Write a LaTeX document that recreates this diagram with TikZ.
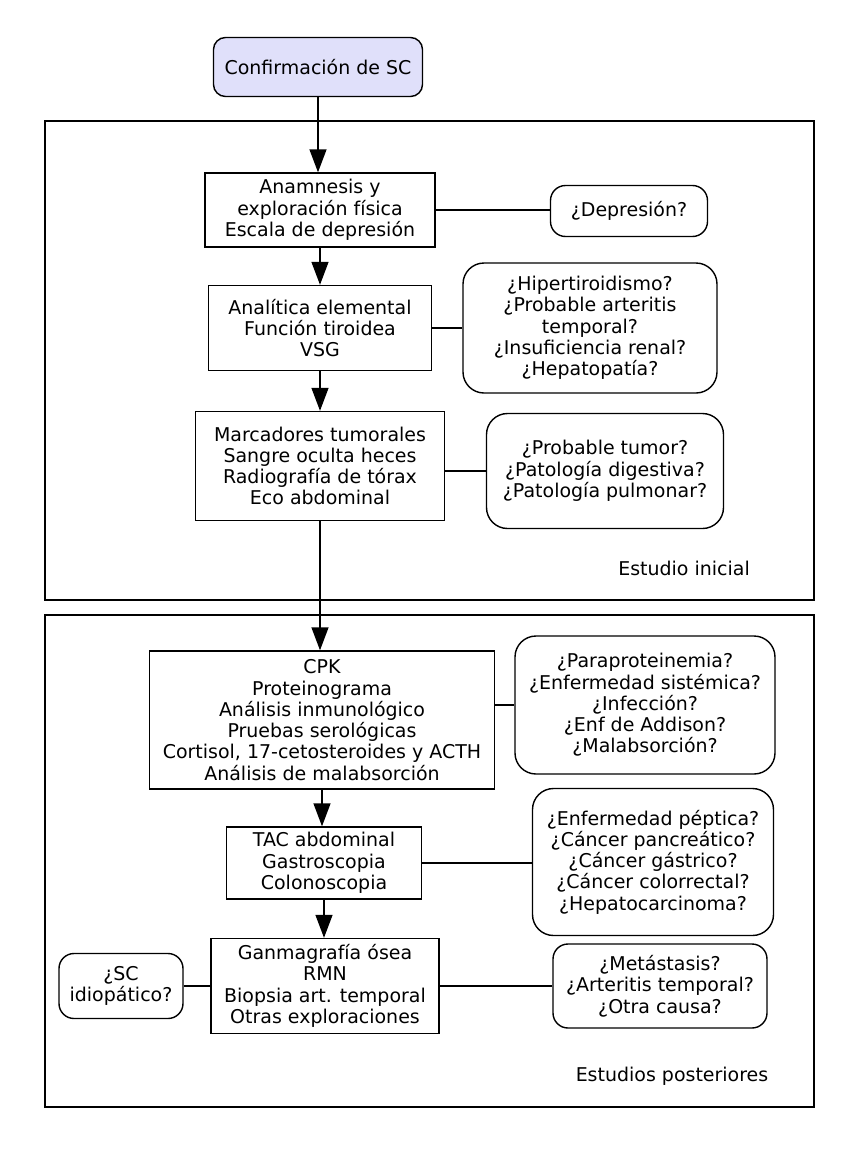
\documentclass[tikz,border=0pt]{standalone}
\usepackage{fontspec}
\setmainfont{DejaVu Sans}
\usepackage{tikz}
\usetikzlibrary{arrows.meta, positioning, calc}
\definecolor{startlila}{RGB}{224, 224, 250}

\tikzset{
  stepbox/.style={draw, line width=0.8pt, align=center, inner sep=2pt},
  askbox/.style={draw, line width=0.8pt, rounded corners=0.42cm, align=center, inner sep=2pt},
  framebox/.style={draw, line width=0.8pt},
  flow/.style={line width=0.8pt, -{Triangle[width=0.34cm, length=0.46cm]}},
  link/.style={line width=0.8pt}
}

\begin{document}
\begin{tikzpicture}[font=\fontsize{10.8}{12.1}\selectfont]
  \useasboundingbox (0,0) rectangle (17.18,-23);

  % Start
  \node[stepbox, fill=startlila, rounded corners=0.24cm, minimum width=4.18cm, minimum height=1.18cm] (conf) at (6.36, -1.34) {Confirmación de SC};

  % Estudio inicial
  \draw[framebox] (0.9, -2.42) rectangle (16.28, -12.0);
  \node (inicial) at (13.68, -11.36) {Estudio inicial};

  \node[stepbox, minimum width=4.6cm, minimum height=1.48cm] (anam) at (6.4, -4.2) {Anamnesis y\\exploración física\\Escala de depresión};
  \node[askbox, rounded corners=0.3cm, minimum width=3.14cm, minimum height=1.02cm] (depre) at (12.58, -4.22) {¿Depresión?};

  \node[stepbox, minimum width=4.46cm, minimum height=1.7cm] (anal) at (6.4, -6.56) {Analítica elemental\\Función tiroidea\\VSG};
  \node[askbox, minimum width=5.08cm, minimum height=2.6cm] (hiper) at (11.8, -6.56) {¿Hipertiroidismo?\\¿Probable arteritis\\temporal?\\¿Insuficiencia renal?\\¿Hepatopatía?};

  \node[stepbox, minimum width=4.98cm, minimum height=2.18cm] (marc) at (6.4, -9.32) {Marcadores tumorales\\Sangre oculta heces\\Radiografía de tórax\\Eco abdominal};
  \node[askbox, minimum width=4.74cm, minimum height=2.3cm] (tumor) at (12.1, -9.42) {¿Probable tumor?\\¿Patología digestiva?\\¿Patología pulmonar?};

  % Estudios posteriores
  \draw[framebox] (0.9, -12.3) rectangle (16.28, -22.14);
  \node (poster) at (13.44, -21.52) {Estudios posteriores};

  \node[stepbox, minimum width=6.9cm, minimum height=2.76cm] (cpk) at (6.44, -14.4) {CPK\\Proteinograma\\Análisis inmunológico\\Pruebas serológicas\\Cortisol, 17-cetosteroides y ACTH\\Análisis de malabsorción};
  \node[askbox, minimum width=5.2cm, minimum height=2.76cm] (para) at (12.9, -14.1) {¿Paraproteinemia?\\¿Enfermedad sistémica?\\¿Infección?\\¿Enf de Addison?\\¿Malabsorción?};

  \node[stepbox, minimum width=3.9cm, minimum height=1.44cm] (tac) at (6.48, -17.26) {TAC abdominal\\Gastroscopia\\Colonoscopia};
  \node[askbox, minimum width=4.82cm, minimum height=2.94cm] (peptica) at (13.06, -17.24) {¿Enfermedad péptica?\\¿Cáncer pancreático?\\¿Cáncer gástrico?\\¿Cáncer colorrectal?\\¿Hepatocarcinoma?};

  \node[stepbox, minimum width=4.56cm, minimum height=1.9cm] (ganma) at (6.5, -19.72) {Ganmagrafía ósea\\RMN\\Biopsia art. temporal\\Otras exploraciones};
  \node[askbox, rounded corners=0.3cm, minimum width=2.48cm, minimum height=1.3cm] (idio) at (2.42, -19.72) {¿SC\\idiopático?};
  \node[askbox, rounded corners=0.3cm, minimum width=4.28cm, minimum height=1.68cm] (meta) at (13.2, -19.72) {¿Metástasis?\\¿Arteritis temporal?\\¿Otra causa?};

  % Main flow
  \draw[flow] (conf.south) -- (conf.south |- anam.north);
  \draw[flow] (anam.south) -- (anam.south |- anal.north);
  \draw[flow] (anal.south) -- (anal.south |- marc.north);
  \draw[flow] (marc.south) -- (marc.south |- cpk.north);
  \draw[flow] (cpk.south) -- (cpk.south |- tac.north);
  \draw[flow] (tac.south) -- (tac.south |- ganma.north);

  % Questions
  \draw[link] (anam.east) -- (anam.east -| depre.west);
  \draw[link] (anal.east) -- (anal.east -| hiper.west);
  \draw[link] (marc.east |- tumor.west) -- (tumor.west);
  \draw[link] (cpk.east |- para.west) -- (para.west);
  \draw[link] (tac.east) -- (tac.east -| peptica.west);
  \draw[link] (ganma.east) -- (ganma.east -| meta.west);
  \draw[link] (idio.east) -- (idio.east -| ganma.west);
\end{tikzpicture}
\end{document}
